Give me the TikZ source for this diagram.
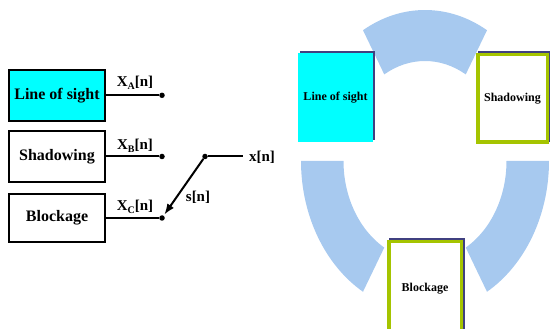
\documentclass[tikz,border=0pt]{standalone}
\usepackage{fontspec}
\setmainfont{Liberation Serif}
\usetikzlibrary{arrows.meta}
\definecolor{ringblue}{RGB}{167,201,239}
\definecolor{navy}{RGB}{64,64,128}
\definecolor{lgreen}{RGB}{165,196,0}
\definecolor{cyanfill}{RGB}{0,255,255}
\begin{document}
\begin{tikzpicture}[x=1pt,y=-1pt,
  lbox/.style={draw=black, line width=2.2pt, inner sep=0pt, minimum width=95.8pt, font=\fontsize{16}{16}\selectfont\bfseries},
  wire/.style={line width=2pt},
  dot/.style={circle, fill=black, inner sep=0pt, minimum size=5.5pt},
  lab/.style={font=\fontsize{15}{15}\selectfont\bfseries, inner sep=0pt},
  ringseg/.style={fill=ringblue},
  shadowrect/.style={fill=navy},
  rbox/.style={inner sep=0pt, font=\fontsize{12}{12}\selectfont\bfseries},
  gbox/.style={rbox, draw=lgreen, fill=white, line width=3.5pt}
]
\useasboundingbox (0,0) rectangle (550,329);

% ring segments
\begin{scope}[shift={(425,161)}, yscale=-1]
  \fill[ringseg] (60:124 and 151) arc[start angle=60,end angle=120,x radius=124,y radius=151]
    -- (120:81.5 and 100) arc[start angle=120,end angle=60,x radius=81.5,y radius=100] -- cycle;
  \fill[ringseg] (180:124 and 151) arc[start angle=180,end angle=240,x radius=124,y radius=151]
    -- (240:81.5 and 100) arc[start angle=240,end angle=180,x radius=81.5,y radius=100] -- cycle;
  \fill[ringseg] (300:124 and 151) arc[start angle=300,end angle=360,x radius=124,y radius=151]
    -- (360:81.5 and 100) arc[start angle=360,end angle=300,x radius=81.5,y radius=100] -- cycle;
\end{scope}

% right boxes
\fill[shadowrect] (300,51) rectangle (375,140);
\node[rbox, fill=cyanfill, minimum width=75pt, minimum height=89pt] (rlos) at (335.5,97.5) {Line of sight};

\fill[shadowrect] (478,51) rectangle (551,142);
\node[gbox, minimum width=69.5pt, minimum height=87.5pt] (rsha) at (512.5,98.5) {Shadowing};

\fill[shadowrect] (389,238) rectangle (465,340);
\node[gbox, minimum width=72.5pt, minimum height=95pt] (rblo) at (425,289) {Blockage};

% left boxes
\node[lbox, fill=cyanfill, minimum height=50.8pt] (los) at (57,95.3) {Line of sight};
\node[lbox, minimum height=50.8pt] (sha) at (57,156.5) {Shadowing};
\node[lbox, minimum height=47.8pt] (blo) at (57,218) {Blockage};

% dots
\node[dot] (dA) at (162,95.3) {};
\node[dot] (dB) at (162,156.5) {};
\node[dot] (dC) at (162,218) {};
\node[dot] (sw) at (205,156.5) {};
\coordinate (xin) at (243,156.5);

\draw[wire] (los.east) -- (dA);
\draw[wire] (sha.east) -- (dB);
\draw[wire] (blo.east) -- (dC);
\draw[wire] (sw) -- (xin);
\draw[wire, -{Latex[length=11pt,width=8pt]}, shorten >=1pt] (sw) -- (dC);

% labels
\node[lab] (lA) at (135,83) {X\raisebox{-0.2em}{\fontsize{10}{10}\selectfont A}[n]};
\node[lab] (lB) at (135,146) {X\raisebox{-0.2em}{\fontsize{10}{10}\selectfont B}[n]};
\node[lab] (lC) at (135,207) {X\raisebox{-0.2em}{\fontsize{10}{10}\selectfont C}[n]};
\node[lab] (lx) at (262,157) {x[n]};
\node[lab] (ls) at (198,197) {s[n]};
\end{tikzpicture}
\end{document}
